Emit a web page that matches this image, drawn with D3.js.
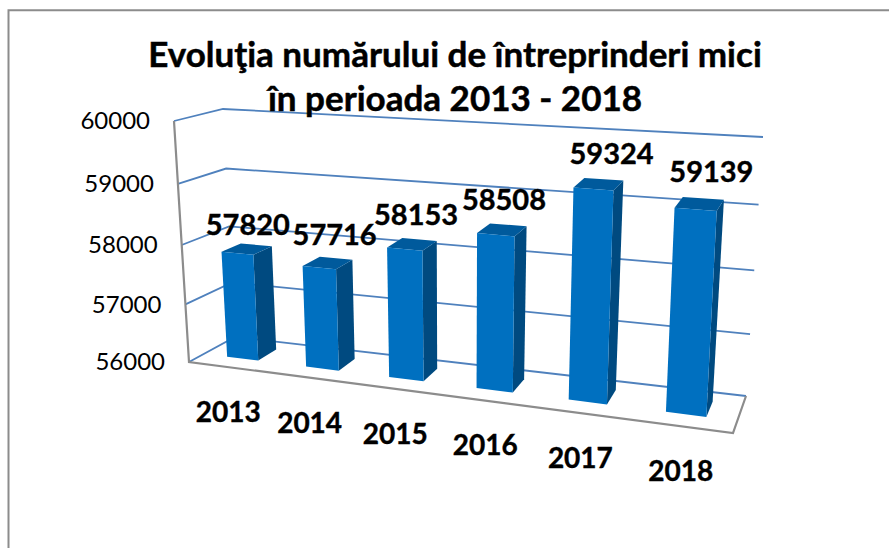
<!DOCTYPE html>
<html>
<head>
<meta charset="utf-8">
<script src="https://cdn.jsdelivr.net/npm/d3@7"></script>
<style>
  body { margin: 0; background: #fff; }
  svg { display: block; }
</style>
</head>
<body>
<div id="chart"></div>
<script>
const years = ["2013", "2014", "2015", "2016", "2017", "2018"];
const values = [57820, 57716, 58153, 58508, 59324, 59139];
const yTicks = [56000, 57000, 58000, 59000, 60000];
const titleLines = ["Evoluţia numărului de întreprinderi mici", "în perioada 2013 - 2018"];

// corners of the 3D box on screen, f = front wall side, b = back wall side
const box = {
  fbl: [189, 362], fbr: [733, 433], ftl: [174, 121], ftr: [747, 161],
  bbl: [235, 337], bbr: [746, 396], btl: [223, 109], btr: [763, 137]
};
// hand placed data labels, as they were dragged in the original chart
const labelNudge = [[1, -24], [7, -28], [4, -29], [2, -30], [13, -30], [12, -32]];

const width = 889, height = 548;
const svg = d3.select("#chart").append("svg")
  .attr("width", width)
  .attr("height", height);

const xBand = d3.scaleBand().domain(years).range([0, 1]).paddingInner(0.6).paddingOuter(0.3);
const yScale = d3.scaleLinear().domain([56000, 60000]).range([0, 1]);

// foreshortening along the width and the height of the box
const warpX = u => u / (1.17 - 0.17 * u);
const warpY = v => v / (1.06 - 0.06 * v);
const mix = (a, b, t) => [a[0] + (b[0] - a[0]) * t, a[1] + (b[1] - a[1]) * t];

function project(u, v, w) {
  const x = warpX(u), y = warpY(v);
  const front = mix(mix(box.fbl, box.fbr, x), mix(box.ftl, box.ftr, x), y);
  const back = mix(mix(box.bbl, box.bbr, x), mix(box.btl, box.btr, x), y);
  return mix(front, back, w);
}

const line = d3.line();
const closed = d3.line().curve(d3.curveLinearClosed);

// frame of the chart, cut off by the screenshot
svg.append("path")
  .attr("d", line([[8.5, height], [8.5, 10.3], [width, 10.3]]))
  .attr("fill", "none")
  .attr("stroke", "#8c8c8c")
  .attr("stroke-width", 2);

// gridlines on the back and left walls
svg.append("g").selectAll("path")
  .data(yTicks)
  .join("path")
  .attr("d", d => line([project(0, yScale(d), 0), project(0, yScale(d), 1), project(1, yScale(d), 1)]))
  .attr("fill", "none")
  .attr("stroke", "#4f81bd")
  .attr("stroke-width", 1.8);

// value axis and floor edges
svg.append("path")
  .attr("d", line([project(0, 1, 0), project(0, 0, 0), project(1, 0, 0), project(1, 0, 1)]))
  .attr("fill", "none")
  .attr("stroke", "#8c8c8c")
  .attr("stroke-width", 2.2);

svg.append("g")
  .selectAll("text")
  .data(yTicks)
  .join("text")
  .attr("x", d => project(0, yScale(d), 0)[0] - 24)
  .attr("y", d => project(0, yScale(d), 0)[1])
  .attr("dy", "0.35em")
  .attr("text-anchor", "end")
  .style("font", "24px Lato")
  .attr("fill", "#000")
  .text(d => d);

// bars
const wFront = 0.33, wBack = 0.75;
const bars = svg.append("g").selectAll("g")
  .data(years.map((year, i) => ({ year, value: values[i], i })))
  .join("g");

const corners = d => {
  const u0 = xBand(d.year), u1 = u0 + xBand.bandwidth(), v = yScale(d.value);
  return { u0, u1, v };
};

bars.append("path")
  .attr("fill", "#004a80")
  .attr("d", d => {
    const { u1, v } = corners(d);
    return closed([project(u1, 0, wFront), project(u1, v, wFront), project(u1, v, wBack), project(u1, 0, wBack)]);
  });

bars.append("path")
  .attr("fill", "#005a9c")
  .attr("d", d => {
    const { u0, u1, v } = corners(d);
    return closed([project(u0, v, wFront), project(u1, v, wFront), project(u1, v, wBack), project(u0, v, wBack)]);
  });

bars.append("path")
  .attr("fill", "#0070c0")
  .attr("d", d => {
    const { u0, u1, v } = corners(d);
    return closed([project(u0, 0, wFront), project(u0, v, wFront), project(u1, v, wFront), project(u1, 0, wFront)]);
  });

// value labels above the bars
svg.append("g")
  .selectAll("text")
  .data(years.map((year, i) => ({ year, value: values[i], i })))
  .join("text")
  .attr("transform", d => {
    const { u0, u1, v } = corners(d);
    const c = project((u0 + u1) / 2, v, (wFront + wBack) / 2);
    return `translate(${c[0] + labelNudge[d.i][0]},${c[1] + labelNudge[d.i][1]})`;
  })
  .attr("dy", "0.35em")
  .attr("text-anchor", "middle")
  .style("font", "bold 29px Lato")
  .attr("fill", "#000")
  .attr("stroke", "#000")
  .attr("stroke-width", 0.4)
  .text(d => d.value);

// category labels under the floor
svg.append("g")
  .selectAll("text")
  .data(years)
  .join("text")
  .attr("transform", d => {
    const c = project(xBand(d) + xBand.bandwidth() / 2, 0, 0);
    return `translate(${c[0]},${c[1] + 45})`;
  })
  .attr("dy", "0.35em")
  .attr("text-anchor", "middle")
  .style("font", "bold 28px Lato")
  .attr("fill", "#000")
  .attr("stroke", "#000")
  .attr("stroke-width", 0.4)
  .text(d => d);

// title goes last, it sits on top of the upper gridline
svg.append("g")
  .selectAll("text")
  .data(titleLines)
  .join("text")
  .attr("x", 455)
  .attr("y", (d, i) => 67 + i * 44)
  .attr("text-anchor", "middle")
  .style("font", "bold 35px Lato")
  .attr("fill", "#000")
  .attr("stroke", "#000")
  .attr("stroke-width", 0.5)
  .text(d => d);
</script>
</body>
</html>
